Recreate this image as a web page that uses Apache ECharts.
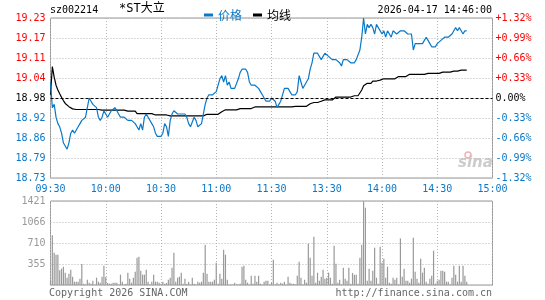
<!DOCTYPE html>
<html>
<head>
<meta charset="utf-8">
<script src="https://cdn.jsdelivr.net/npm/echarts@6/dist/echarts.min.js"></script>
<style>
  html, body { margin: 0; padding: 0; background: #fff; }
  #chart { width: 545px; height: 300px; }
</style>
</head>
<body>
<div id="chart"></div>
<script>
// 分时图 sz002214 *ST大立 2026-04-17
const prevClose = 18.98
const priceMin = 18.73
const priceMax = 19.23
const priceStep = 0.0625

const priceLabels = ['18.73', '18.79', '18.86', '18.92', '18.98', '19.04', '19.11', '19.17', '19.23']
const pctLabels = ['-1.32%', '-0.99%', '-0.66%', '-0.33%', '0.00%', '+0.33%', '+0.66%', '+0.99%', '+1.32%']
const timeLabels = ['09:30', '10:00', '10:30', '11:00', '11:30', '13:30', '14:00', '14:30', '15:00']
const volLabels = ['', '355', '710', '1066', '1421']

// one value per minute, 09:30 .. 11:30, 13:01 .. 14:46
const prices = [
  19.03, 18.95, 18.96, 18.92, 18.90, 18.89, 18.87, 18.84, 18.83, 18.82,
  18.84, 18.87, 18.88, 18.87, 18.88, 18.89, 18.90, 18.91, 18.91, 18.92,
  18.95, 18.98, 18.97, 18.96, 18.96, 18.95, 18.92, 18.91, 18.92, 18.94,
  18.93, 18.92, 18.93, 18.94, 18.94, 18.95, 18.94, 18.93, 18.92, 18.92,
  18.92, 18.92, 18.91, 18.91, 18.91, 18.91, 18.90, 18.89, 18.88, 18.90,
  18.88, 18.92, 18.93, 18.92, 18.92, 18.90, 18.89, 18.87, 18.86, 18.86,
  18.86, 18.87, 18.90, 18.89, 18.86, 18.91, 18.93, 18.94, 18.94, 18.93,
  18.93, 18.93, 18.93, 18.93, 18.92, 18.90, 18.89, 18.89, 18.92, 18.91,
  18.89, 18.89, 18.90, 18.93, 18.96, 18.98, 18.99, 18.99, 18.99, 18.99,
  19.00, 19.02, 19.04, 19.05, 19.03, 19.05, 19.02, 19.03, 19.01, 19.01,
  19.01, 19.01, 19.04, 19.06, 19.07, 19.07, 19.07, 19.06, 19.03, 19.02,
  19.02, 19.02, 19.02, 19.01, 19.00, 18.99, 18.98, 18.97, 18.97, 18.97, 18.98,
  18.98, 18.97, 18.95, 18.96, 18.97, 18.99, 19.01, 19.01, 19.01, 19.00,
  18.99, 18.99, 18.99, 19.00, 19.05, 19.03, 19.01, 19.02, 19.02, 19.04,
  19.07, 19.09, 19.12, 19.12, 19.12, 19.12, 19.10, 19.11, 19.12, 19.12,
  19.11, 19.11, 19.10, 19.10, 19.10, 19.10, 19.09, 19.08, 19.10, 19.10,
  19.10, 19.10, 19.09, 19.09, 19.09, 19.10, 19.10, 19.13, 19.17, 19.23,
  19.18, 19.21, 19.20, 19.21, 19.20, 19.18, 19.21, 19.20, 19.20, 19.18,
  19.19, 19.17, 19.19, 19.18, 19.17, 19.19, 19.19, 19.18, 19.18, 19.19,
  19.19, 19.19, 19.19, 19.18, 19.18, 19.18, 19.13, 19.15, 19.15, 19.15,
  19.15, 19.15, 19.16, 19.17, 19.16, 19.15, 19.14, 19.14, 19.14, 19.15,
  19.15, 19.16, 19.16, 19.17, 19.17, 19.17, 19.17, 19.18, 19.19, 19.20,
  19.19, 19.20, 19.19, 19.18, 19.19, 19.19
]

const avgPrices = [
  18.990, 19.078, 19.045, 19.020, 19.005, 18.993, 18.982, 18.972, 18.963, 18.957,
  18.953, 18.949, 18.946, 18.945, 18.944, 18.943, 18.944, 18.944, 18.944, 18.944,
  18.944, 18.944, 18.944, 18.944, 18.944, 18.944, 18.944, 18.942, 18.942, 18.942,
  18.942, 18.942, 18.942, 18.942, 18.942, 18.942, 18.942, 18.942, 18.942, 18.942,
  18.942, 18.939, 18.939, 18.939, 18.939, 18.939, 18.939, 18.931, 18.931, 18.931,
  18.931, 18.931, 18.931, 18.931, 18.931, 18.931, 18.927, 18.927, 18.927, 18.927,
  18.927, 18.927, 18.927, 18.927, 18.927, 18.924, 18.924, 18.924, 18.924, 18.924,
  18.924, 18.924, 18.924, 18.924, 18.924, 18.924, 18.924, 18.924, 18.924, 18.924,
  18.924, 18.924, 18.924, 18.924, 18.929, 18.929, 18.929, 18.929, 18.929, 18.929,
  18.929, 18.929, 18.929, 18.937, 18.943, 18.943, 18.943, 18.943, 18.943, 18.943,
  18.943, 18.943, 18.943, 18.947, 18.947, 18.947, 18.947, 18.947, 18.947, 18.947,
  18.952, 18.952, 18.952, 18.952, 18.952, 18.952, 18.952, 18.952, 18.952, 18.952, 18.952,
  18.952, 18.952, 18.952, 18.952, 18.952, 18.952, 18.952, 18.952, 18.952, 18.952,
  18.952, 18.952, 18.954, 18.954, 18.954, 18.954, 18.954, 18.954, 18.954, 18.960,
  18.962, 18.966, 18.966, 18.966, 18.966, 18.966, 18.970, 18.974, 18.974, 18.974,
  18.974, 18.974, 18.974, 18.979, 18.983, 18.983, 18.983, 18.983, 18.983, 18.983,
  18.983, 18.983, 18.983, 18.987, 18.987, 18.987, 18.987, 18.992, 19.005, 19.018,
  19.023, 19.026, 19.026, 19.026, 19.033, 19.033, 19.033, 19.033, 19.036, 19.040,
  19.040, 19.040, 19.040, 19.040, 19.040, 19.040, 19.040, 19.040, 19.047, 19.047,
  19.047, 19.047, 19.047, 19.047, 19.054, 19.054, 19.054, 19.054, 19.054, 19.054,
  19.054, 19.054, 19.054, 19.054, 19.057, 19.057, 19.057, 19.057, 19.057, 19.057,
  19.057, 19.061, 19.061, 19.061, 19.061, 19.061, 19.061, 19.064, 19.064, 19.064,
  19.064, 19.064, 19.067, 19.067, 19.067, 19.067
]

const volumes = [
  68, 840, 547, 513, 513, 248, 276, 310, 209, 124,
  192, 260, 141, 56, 56, 56, 107, 355, 23, 10,
  90, 39, 23, 73, 10, 124, 56, 39, 141, 327,
  135, 34, 23, 23, 39, 39, 39, 10, 175, 56,
  10, 23, 209, 107, 39, 124, 226, 462, 479, 243,
  175, 175, 260, 56, 10, 56, 175, 56, 56, 39,
  23, 56, 23, 34, 90, 124, 293, 547, 56, 124,
  141, 209, 23, 107, 23, 56, 10, 124, 23, 10,
  56, 39, 56, 209, 682, 192, 56, 56, 56, 90,
  378, 23, 192, 107, 598, 513, 90, 10, 10, 10,
  39, 10, 10, 23, 310, 327, 90, 39, 10, 158,
  23, 158, 56, 158, 23, 10, 56, 73, 73, 10, 39,
  429, 10, 39, 11, 39, 23, 56, 10, 141, 39,
  23, 23, 10, 158, 395, 124, 10, 90, 39, 699,
  462, 158, 818, 39, 209, 73, 141, 260, 107, 124,
  209, 124, 23, 665, 361, 39, 90, 10, 293, 107,
  73, 293, 23, 203, 175, 175, 23, 462, 682, 1416,
  1309, 73, 276, 73, 243, 631, 124, 23, 649, 378,
  446, 124, 310, 39, 23, 124, 90, 124, 10, 789,
  141, 276, 73, 73, 39, 107, 800, 226, 107, 39,
  446, 209, 293, 56, 23, 107, 158, 581, 23, 73,
  90, 243, 243, 226, 56, 56, 10, 124, 327, 175,
  56, 327, 56, 327, 158, 56
]

const BLUE = '#0a78c8'
const RED = '#ff0000'
const GRID_GREY = '#b4b4b4'
const MONO = 'DejaVu Sans Mono'
const CJK = 'Noto Sans CJK SC'

const tickIndex = (v) => Math.round((Number(v) - priceMin) / priceStep)

const chart = echarts.init(document.getElementById('chart'), null, { renderer: 'canvas' })

const dottedSplit = {
  show: true,
  lineStyle: { color: GRID_GREY, type: [1, 2], width: 1 }
}

const option = {
  animation: false,
  backgroundColor: '#fff',
  textStyle: { fontFamily: MONO },
  legend: {
    left: 199,
    top: 4,
    itemWidth: 9,
    itemHeight: 3,
    itemGap: 11,
    icon: 'rect',
    selectedMode: false,
    textStyle: { fontFamily: CJK, fontSize: 12 },
    data: [
      { name: '价格', textStyle: { color: BLUE } },
      { name: '均线', textStyle: { color: '#000' } }
    ]
  },
  grid: [
    { left: 50.5, right: 52.5, top: 18, height: 160, show: true, borderColor: '#999', borderWidth: 1 },
    { left: 50.5, right: 52.5, top: 201, height: 84, show: true, borderColor: '#999', borderWidth: 1 }
  ],
  xAxis: [
    {
      type: 'value', gridIndex: 0, min: 0, max: 240, interval: 30,
      axisLine: { show: false }, axisTick: { show: false },
      splitLine: dottedSplit,
      axisLabel: {
        margin: 6, color: BLUE, fontSize: 10, fontFamily: MONO,
        formatter: (v) => timeLabels[Math.round(v / 30)]
      }
    },
    {
      type: 'value', gridIndex: 1, min: 0, max: 240, interval: 30,
      axisLine: { show: false }, axisTick: { show: false },
      splitLine: dottedSplit,
      axisLabel: { show: false }
    }
  ],
  yAxis: [
    {
      type: 'value', gridIndex: 0, min: priceMin, max: priceMax, interval: priceStep,
      axisLine: { show: false }, axisTick: { show: false },
      splitLine: dottedSplit,
      axisLabel: {
        margin: 5, fontSize: 10, fontFamily: MONO,
        formatter: (v) => priceLabels[tickIndex(v)],
        color: (v) => {
          const i = tickIndex(v)
          return i > 4 ? RED : i === 4 ? '#000' : BLUE
        }
      }
    },
    {
      type: 'value', gridIndex: 0, position: 'right', min: priceMin, max: priceMax, interval: priceStep,
      axisLine: { show: false }, axisTick: { show: false }, splitLine: { show: false },
      axisLabel: {
        margin: 3, fontSize: 10, fontFamily: MONO,
        formatter: (v) => pctLabels[tickIndex(v)],
        color: (v) => {
          const i = tickIndex(v)
          return i > 4 ? RED : i === 4 ? '#000' : BLUE
        }
      }
    },
    {
      type: 'value', gridIndex: 1, min: 0, max: 1421, interval: 355.25,
      axisLine: { show: false }, axisTick: { show: false },
      splitLine: dottedSplit,
      axisLabel: {
        margin: 5, fontSize: 10, fontFamily: MONO, color: '#999',
        formatter: (v) => volLabels[Math.round(v / 355.25)]
      }
    }
  ],
  series: [
    {
      name: '价格',
      type: 'line',
      xAxisIndex: 0,
      yAxisIndex: 0,
      showSymbol: false,
      data: prices.map((p, i) => [i, p]),
      lineStyle: { color: BLUE, width: 1.2 },
      itemStyle: { color: BLUE },
      z: 4
    },
    {
      name: '均线',
      type: 'line',
      xAxisIndex: 0,
      yAxisIndex: 0,
      showSymbol: false,
      data: avgPrices.map((p, i) => [i, p]),
      lineStyle: { color: '#000', width: 1.2 },
      itemStyle: { color: '#000' },
      z: 3,
      markLine: {
        silent: true,
        symbol: 'none',
        label: { show: false },
        lineStyle: { color: '#000', type: [3, 2], width: 1 },
        data: [{ yAxis: prevClose }]
      }
    },
    {
      name: '成交量',
      type: 'bar',
      xAxisIndex: 1,
      yAxisIndex: 2,
      barWidth: 1.2,
      data: volumes.map((v, i) => [i, v]),
      itemStyle: { color: '#999' }
    }
  ],
  graphic: [
    { type: 'text', left: 50, top: 5, style: { text: 'sz002214', font: '10px "DejaVu Sans Mono"', fill: '#000' } },
    { type: 'text', left: 119, top: 3, style: { text: '*ST大立', font: '12px "DejaVu Sans Mono", "Noto Sans CJK SC"', fill: '#000' } },
    { type: 'text', right: 53, top: 5, style: { text: '2026-04-17 14:46:00', font: '10px "DejaVu Sans Mono"', fill: '#000' } },
    { type: 'text', left: 458, top: 156, style: { text: 'sina', font: 'italic bold 15px "DejaVu Sans"', fill: '#cccccc' } },
    { type: 'circle', shape: { cx: 468, cy: 155, r: 3 }, style: { fill: 'none', stroke: '#eeb4b4', lineWidth: 1.5 } },
    { type: 'text', left: 49, top: 288, style: { text: 'Copyright 2026 SINA.COM', font: '10px "DejaVu Sans Mono"', fill: '#666' } },
    { type: 'text', right: 53, top: 288, style: { text: 'http://finance.sina.com.cn', font: '10px "DejaVu Sans Mono"', fill: '#666' } }
  ]
}

chart.setOption(option)
</script>
</body>
</html>
